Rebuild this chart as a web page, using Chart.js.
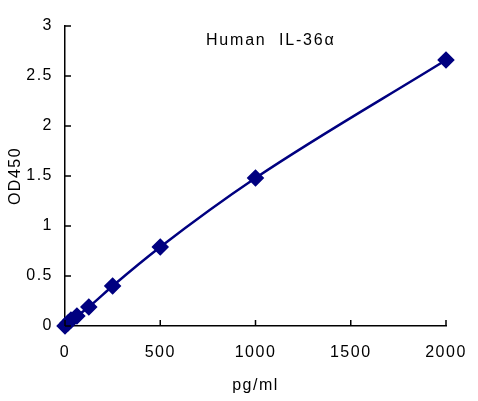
<!DOCTYPE html>
<html lang="en">
<head>
    <meta charset="UTF-8">
    <title>Human IL-36α</title>
    <style>
        body { margin: 0; background: #fff; }
    </style>
</head>
<body>
    <canvas id="myChart" width="478" height="401"></canvas>

    <script src="https://cdn.jsdelivr.net/npm/chart.js"></script>

    <script>
        const ctx = document.getElementById('myChart');

        // concentrações (pg/ml) e leituras OD450
        const conc = [0, 15.6, 31.25, 62.5, 125, 250, 500, 1000, 2000];
        const od450 = [0.0, 0.03, 0.06, 0.1, 0.19, 0.4, 0.79, 1.48, 2.66];
        const xTicks = [0, 500, 1000, 1500, 2000];
        const yTicks = [0, 0.5, 1, 1.5, 2, 2.5, 3];
        const chartTitle = 'Human  IL-36α';

        const navy = '#000080';
        const font = "'Liberation Sans', Arial, sans-serif";

        // texto um pouco mais espaçado, como no original
        const spacing = {
            id: 'spacing',
            beforeUpdate(chart) { chart.ctx.letterSpacing = '1.5px'; },
            beforeDraw(chart) { chart.ctx.letterSpacing = '1.5px'; }
        };

        // marcas dos eixos para dentro e título dentro da área do gráfico
        const extras = {
            id: 'extras',
            afterDraw(chart) {
                const c = chart.ctx;
                const x = chart.scales.x, y = chart.scales.y;
                c.save();
                c.strokeStyle = '#000';
                c.lineWidth = 1.5;
                c.beginPath();
                x.ticks.forEach((t, i) => {
                    const px = x.getPixelForTick(i);
                    c.moveTo(px, y.bottom);
                    c.lineTo(px, y.bottom - 6);
                });
                y.ticks.forEach((t, i) => {
                    const py = y.getPixelForTick(i);
                    c.moveTo(x.left, py);
                    c.lineTo(x.left + 6, py);
                });
                c.stroke();
                c.fillStyle = '#000';
                c.font = '16px ' + font;
                c.letterSpacing = '1.8px';
                c.textAlign = 'center';
                c.textBaseline = 'middle';
                c.fillText(chartTitle, x.getPixelForValue(1080), y.getPixelForValue(2.85));
                c.restore();
            }
        };

        new Chart(ctx, {
            type: 'line',
            data: {
                datasets: [{
                    data: conc.map((v, i) => ({ x: v, y: od450[i] })),
                    borderColor: navy,
                    backgroundColor: navy,
                    borderWidth: 2.5,
                    pointStyle: 'rectRot',
                    pointRadius: 7,
                    pointHoverRadius: 7,
                    cubicInterpolationMode: 'monotone',
                    fill: false,
                    clip: false
                }]
            },
            options: {
                responsive: false,
                animation: false,
                layout: { padding: { top: 26, right: 32, left: 0, bottom: 0 } },
                plugins: {
                    legend: { display: false },
                    tooltip: { enabled: false }
                },
                scales: {
                    x: {
                        type: 'linear',
                        min: 0,
                        max: 2000,
                        afterBuildTicks: s => { s.ticks = xTicks.map(v => ({ value: v })); },
                        afterFit: s => { s.height = 75; s.paddingLeft = 0; s.paddingRight = 0; },
                        grid: { display: false, drawTicks: false },
                        border: { display: true, color: '#000', width: 1.5 },
                        ticks: { color: '#000', padding: 17, maxRotation: 0, callback: v => String(v), font: { family: font, size: 16 } },
                        title: { display: true, text: 'pg/ml', color: '#000', padding: { top: 6, bottom: 6 }, font: { family: font, size: 16 } }
                    },
                    y: {
                        min: 0,
                        max: 3,
                        afterBuildTicks: s => { s.ticks = yTicks.map(v => ({ value: v })); },
                        afterFit: s => { s.width = 65; },
                        grid: { display: false, drawTicks: false },
                        border: { display: true, color: '#000', width: 1.5 },
                        ticks: { color: '#000', padding: 12, callback: v => String(v), font: { family: font, size: 16 } },
                        title: { display: true, text: 'OD450', color: '#000', padding: { top: 6, bottom: 0 }, font: { family: font, size: 16 } }
                    }
                }
            },
            plugins: [spacing, extras]
        });
    </script>
</body>
</html>
